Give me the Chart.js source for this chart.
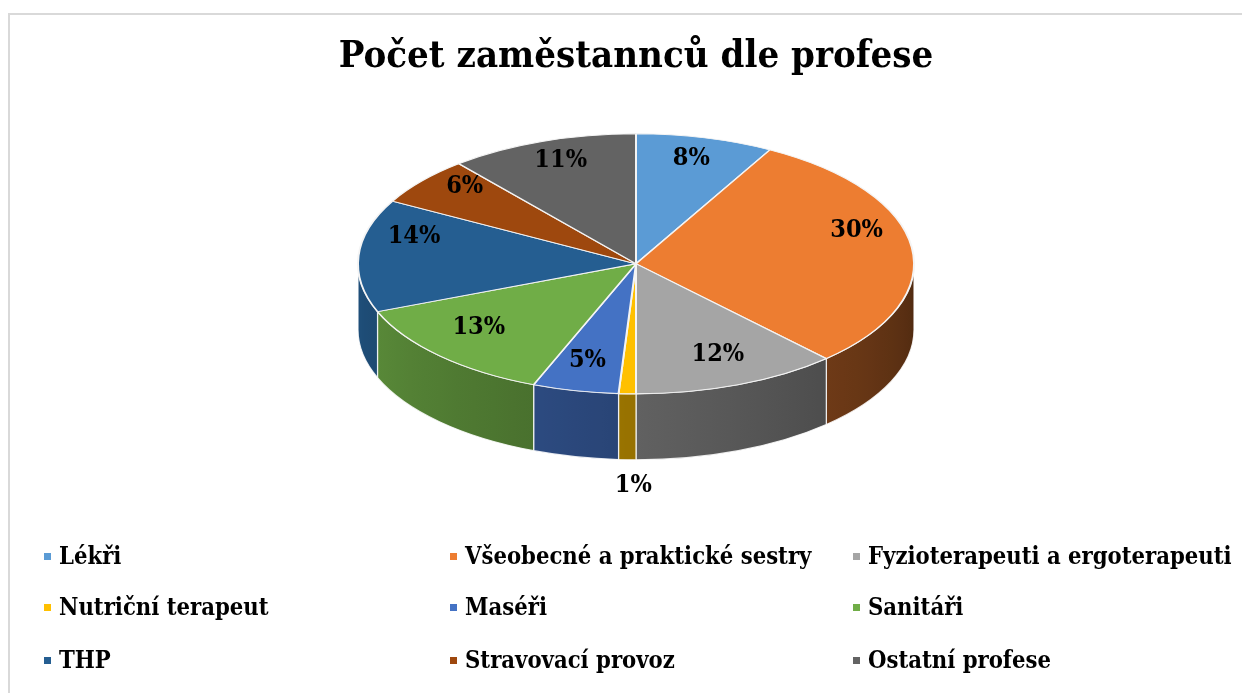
<!DOCTYPE html>
<html>
<head>
<meta charset="utf-8">
<script src="https://cdn.jsdelivr.net/npm/chart.js@4/dist/chart.umd.min.js"></script>
<style>
  body { margin: 0; background: #fff; }
  #wrap { position: relative; width: 1242px; height: 693px; overflow: hidden; }
  #ramecek { position: absolute; left: 8px; top: 13px; width: 1400px; height: 800px;
             border-left: 2px solid #d9d9d9; border-top: 2px solid #d9d9d9; }
  #graf { position: absolute; left: 0; top: 0; }
  #legenda { position: absolute; left: 0; top: 0; font: bold 23.6px "DejaVu Serif Condensed", "DejaVu Serif", serif; color: #000; }
  .polozka { position: absolute; white-space: nowrap; line-height: 28px; transform: translateY(-50%); }
  .ctverec { position: absolute; width: 7px; height: 7px; top: 11px; }
</style>
</head>
<body>
<div id="wrap">
  <div id="ramecek"></div>
  <canvas id="graf" width="1242" height="693"></canvas>
  <div id="legenda"></div>
</div>
<script>
// Data grafu
var profese = ['Lékři', 'Všeobecné a praktické sestry', 'Fyzioterapeuti a ergoterapeuti',
  'Nutriční terapeut', 'Maséři', 'Sanitáři', 'THP', 'Stravovací provoz', 'Ostatní profese'];
var podil = [8, 30, 12, 1, 5, 13, 14, 6, 11];
var barvy = ['#5b9bd5', '#ed7d31', '#a5a5a5', '#ffc000', '#4472c4', '#70ad47', '#255e91', '#9e480e', '#636363'];

// Vzhled 3D kolace
var RX = 278, RY = 130, HLOUBKA = 66, PERSP = 22;
var pismo = '"DejaVu Serif Condensed", "DejaVu Serif", serif';

function ztmav(hex, f) {
  var r = parseInt(hex.substr(1, 2), 16), g = parseInt(hex.substr(3, 2), 16), b = parseInt(hex.substr(5, 2), 16);
  return 'rgb(' + Math.round(r * f) + ',' + Math.round(g * f) + ',' + Math.round(b * f) + ')';
}
function stin(uhel) {
  // svetlo zleva: vpravo tmave, vlevo svetleji
  return 0.33 + 0.52 * uhel / Math.PI;
}

var kolac3d = {
  id: 'kolac3d',
  beforeDatasetsDraw: function (chart) {
    var ctx = chart.ctx, oblouky = chart.getDatasetMeta(0).data;
    var cx = oblouky[0].x, cy = oblouky[0].y, R = oblouky[0].outerRadius;
    // bocni steny (jen predni polovina)
    oblouky.forEach(function (a, i) {
      var s = Math.max(a.startAngle, 0), e = Math.min(a.endAngle, Math.PI);
      if (e <= s) return;
      var xl = cx + RX * Math.cos(e), xr = cx + RX * Math.cos(s);
      var grad = ctx.createLinearGradient(xl, 0, xr + 0.01, 0);
      for (var k = 0; k <= 10; k++) {
        var t = e - (e - s) * k / 10;
        var x = cx + RX * Math.cos(t);
        var p = (x - xl) / (xr - xl + 0.01);
        grad.addColorStop(Math.min(1, Math.max(0, p)), ztmav(barvy[i], stin(t)));
      }
      ctx.save();
      ctx.beginPath();
      ctx.ellipse(cx, cy, RX, RY, 0, s, e, false);
      ctx.lineTo(cx + RX * Math.cos(e), cy + RY * Math.sin(e) + HLOUBKA);
      ctx.ellipse(cx, cy + HLOUBKA, RX, RY, 0, e, s, true);
      ctx.closePath();
      ctx.fillStyle = grad;
      ctx.fill();
      ctx.strokeStyle = 'rgba(255,255,255,0.85)';
      ctx.lineWidth = 1.2;
      ctx.stroke();
      ctx.restore();
    });
    // horni plocha: zplostit kruh na elipsu
    ctx.save();
    ctx.translate(cx, cy);
    ctx.scale(RX / R, RY / R);
    ctx.translate(-cx, -cy);
  },
  afterDatasetsDraw: function (chart) {
    var ctx = chart.ctx, oblouky = chart.getDatasetMeta(0).data;
    ctx.restore();
    var cx = oblouky[0].x, cy = oblouky[0].y;
    ctx.save();
    ctx.font = 'bold 25px ' + pismo;
    ctx.fillStyle = '#000';
    ctx.textAlign = 'center';
    ctx.textBaseline = 'middle';
    oblouky.forEach(function (a, i) {
      var m = (a.startAngle + a.endAngle) / 2, x, y, sn = Math.sin(m);
      if (podil[i] < 3) {
        x = cx + RX * Math.cos(m) + 6;
        y = cy + RY * sn + HLOUBKA + 26;
      } else {
        // zadni polovina je v perspektive stlacena
        x = cx + RX * 0.8 * Math.cos(m);
        y = cy - PERSP + 0.8 * (sn < 0 ? RY - PERSP : RY + PERSP) * sn;
      }
      ctx.fillText(podil[i] + '%', x, y);
    });
    ctx.restore();
  }
};

new Chart(document.getElementById('graf'), {
  type: 'pie',
  data: {
    labels: profese,
    datasets: [{
      data: podil,
      backgroundColor: barvy,
      borderColor: '#f4f4f4',
      borderWidth: 1.1,
      clip: false
    }]
  },
  options: {
    responsive: false,
    animation: false,
    events: [],
    layout: { padding: { top: 0, bottom: 275, left: 30, right: 0 } },
    plugins: {
      legend: { display: false },
      tooltip: { enabled: false },
      title: {
        display: true,
        text: 'Počet zaměstannců dle profese',
        color: '#000',
        font: { family: pismo, size: 38, weight: 'bold', lineHeight: 1.2 },
        padding: { top: 34, bottom: 30 }
      }
    }
  },
  plugins: [kolac3d]
});

// Legenda ve trech sloupcich
var sloupce = [44, 450, 853], radky = [556, 607, 660];
var legenda = document.getElementById('legenda');
profese.forEach(function (p, i) {
  var d = document.createElement('div');
  d.className = 'polozka';
  d.style.left = sloupce[i % 3] + 'px';
  d.style.top = radky[Math.floor(i / 3)] + 'px';
  d.style.paddingLeft = '15px';
  d.innerHTML = '<span class="ctverec" style="left:0;background:' + barvy[i] + '"></span>' + p;
  legenda.appendChild(d);
});
</script>
</body>
</html>
